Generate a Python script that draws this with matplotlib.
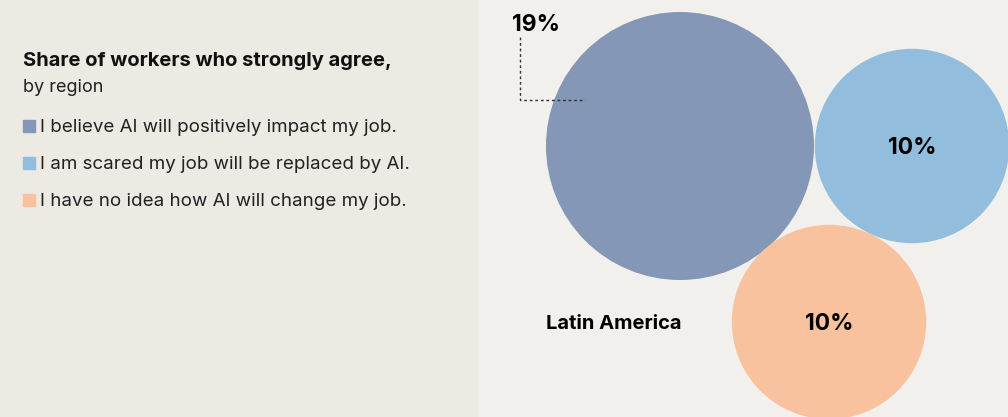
import numpy as np
import matplotlib.pyplot as plt
from matplotlib.patches import Circle, Rectangle

plt.rcParams['font.family'] = ['Inter', 'DejaVu Sans']

# data
region = "Latin America"
statements = [
    "I believe AI will positively impact my job.",
    "I am scared my job will be replaced by AI.",
    "I have no idea how AI will change my job.",
]
shares = [19, 10, 10]
colors = ["#8497b6", "#92bddc", "#f8c29f"]

W, H = 1008, 417
fig = plt.figure(figsize=(W / 100, H / 100), dpi=100)
fig.patch.set_facecolor("#f2f0ec")
ax = fig.add_axes([0, 0, 1, 1])
ax.set_xlim(0, W)
ax.set_ylim(H, 0)
ax.set_aspect("equal")
ax.axis("off")

# left panel background
ax.add_patch(Rectangle((0, 0), 477, H, color="#ede9e3", zorder=0))

# title + legend
ax.text(23, 61, "Share of workers who strongly agree,", fontsize=14.5, fontweight="bold",
        va="center", ha="left", color="#111111")
ax.text(23, 87, "by region", fontsize=13, va="center", ha="left", color="#222222")
for i, (lab, c) in enumerate(zip(statements, colors)):
    y = 126 + i * 37
    ax.add_patch(Rectangle((23, y - 6), 12, 12, color=c))
    ax.text(40, y + 1, lab, fontsize=13.5, va="center", ha="left", color="#222222")

# bubbles, area proportional to share
scale = 134 / np.sqrt(19)
centers = [(680, 146), (912, 146), (829, 322)]
for (cx, cy), v, c in zip(centers, shares, colors):
    ax.add_patch(Circle((cx, cy), scale * np.sqrt(v), color=c, lw=0, zorder=2))

for k in (1, 2):
    ax.text(centers[k][0], centers[k][1] + 2, f"{shares[k]}%", fontsize=16.5, fontweight="bold",
            ha="center", va="center", zorder=3)

# callout for the big bubble
ax.text(512, 25, f"{shares[0]}%", fontsize=16.5, fontweight="bold", ha="left", va="center", zorder=3)
ax.plot([520, 520, 585], [37, 100, 100], ls=(0, (2, 2)), lw=1, color="#333333", zorder=3)

ax.text(546, 324, region, fontsize=14.5, fontweight="bold", ha="left", va="center", zorder=3)

fig.savefig("out.png", dpi=100, facecolor=fig.get_facecolor())
